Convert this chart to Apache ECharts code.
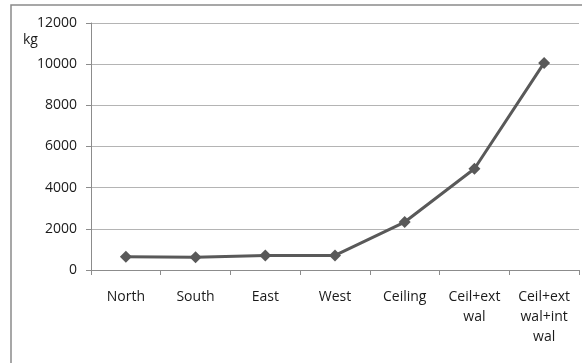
<!DOCTYPE html>
<html><head><meta charset="utf-8">
<script src="https://cdn.jsdelivr.net/npm/echarts@6/dist/echarts.min.js"></script>
<style>html,body{margin:0;padding:0;background:#fff}#c{width:582px;height:363px}</style>
</head><body><div id="c"></div>
<script>
const categories = ['North', 'South', 'East', 'West', 'Ceiling', 'Ceil+ext\nwal', 'Ceil+ext\nwal+int\nwal'];
const massKg = [640, 620, 710, 710, 2330, 4920, 10060];
const yTicks = { min: 0, max: 12000, interval: 2000 };
const unitLabel = 'kg';

const chart = echarts.init(document.getElementById('c'), null, { renderer: 'canvas' });
const font = '"Open Sans", "Liberation Sans", sans-serif';
chart.setOption({
  animation: false,
  backgroundColor: '#ffffff',
  grid: { left: 91, top: 23, right: 3, bottom: 93, containLabel: false },
  graphic: [
    { type: 'rect', shape: { x: 11, y: 5, width: 700, height: 500 }, style: { fill: 'none', stroke: '#8a8a8a', lineWidth: 1.5 }, z: 0, silent: true },
    { type: 'text', left: 23, top: 33, style: { text: unitLabel, fill: '#1a1a1a', font: '14px ' + font } }
  ],
  xAxis: {
    type: 'category',
    data: categories,
    boundaryGap: true,
    axisLine: { lineStyle: { color: '#8c8c8c', width: 1 } },
    axisTick: { show: true, length: 5, lineStyle: { color: '#8c8c8c' } },
    axisLabel: { color: '#1a1a1a', fontFamily: font, fontSize: 14, margin: 17, lineHeight: 20, interval: 0 },
    splitLine: { show: false }
  },
  yAxis: {
    type: 'value',
    min: yTicks.min, max: yTicks.max, interval: yTicks.interval,
    axisLine: { show: true, lineStyle: { color: '#8c8c8c', width: 1 } },
    axisTick: { show: true, length: 5, lineStyle: { color: '#8c8c8c' } },
    axisLabel: { color: '#1a1a1a', fontFamily: font, fontSize: 14, margin: 14, formatter: v => String(v) },
    splitLine: { show: true, lineStyle: { color: '#b4b4b4', width: 1 } }
  },
  series: [{
    type: 'line',
    data: massKg,
    symbol: 'diamond',
    symbolSize: 12,
    showAllSymbol: true,
    lineStyle: { color: '#595959', width: 3 },
    itemStyle: { color: '#595959' },
    z: 5
  }]
});
</script></body></html>
